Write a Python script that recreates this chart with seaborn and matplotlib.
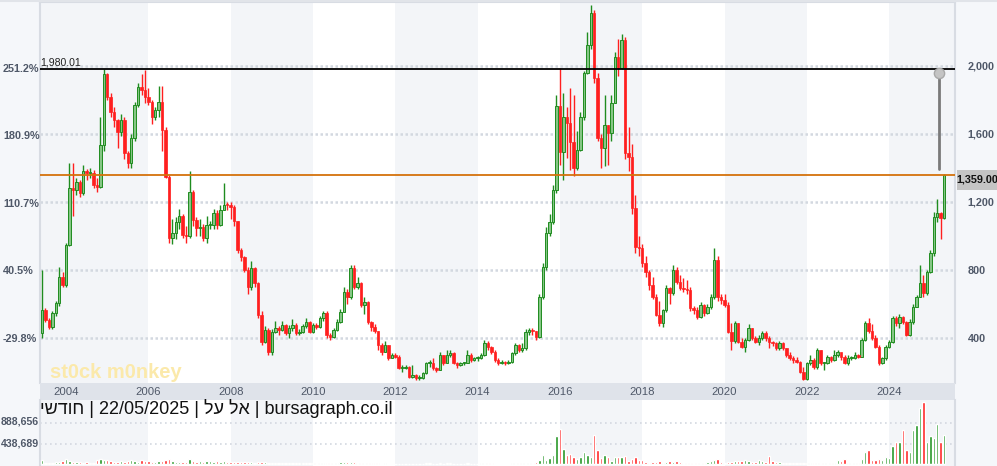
import numpy as np
import pandas as pd
import seaborn as sns
import matplotlib.pyplot as plt
from matplotlib.patches import Rectangle
from matplotlib.lines import Line2D
from matplotlib.transforms import blended_transform_factory

# monthly candles, Jun 2003 .. May 2025 (open of each month = previous close)
first_open = 427
closes = [
    565, 506, 467, 545, 604, 761, 712,                                   # 2003 Jun-Dec
    947, 1280, 1270, 1320, 1251, 1380, 1370, 1370, 1300, 1290, 1535, 1950,  # 2004
    1820, 1731, 1682, 1614, 1682, 1486, 1428, 1574, 1771, 1878, 1859, 1820,  # 2005
    1790, 1700, 1741, 1790, 1624, 1349, 990, 1020, 1084, 1120, 1006, 1000,   # 2006
    1261, 1094, 1045, 1055, 986, 1065, 1065, 1133, 1065, 1153, 1182, 1180,   # 2007
    1173, 1085, 918, 879, 800, 700, 810, 722, 535, 379, 447, 320,            # 2008
    437, 457, 447, 477, 428, 457, 477, 428, 437, 470, 496, 437,              # 2009
    477, 467, 516, 549, 418, 408, 447, 496, 555, 673, 643, 810,              # 2010
    702, 725, 594, 610, 496, 467, 438, 359, 320, 359, 281, 300,              # 2011
    290, 222, 222, 232, 173, 183, 165, 165, 193, 251, 251, 222,              # 2012
    212, 300, 251, 300, 310, 251, 241, 251, 251, 300, 271, 281,              # 2013
    281, 300, 369, 349, 320, 271, 251, 261, 251, 261, 310, 359,              # 2014
    330, 340, 437, 447, 440, 407, 643, 819, 1015, 1084, 1270, 1764,          # 2015
    1496, 1700, 1662, 1555, 1400, 1506, 1702, 1957, 2123, 2310, 1927, 1574,  # 2016
    1515, 1650, 1604, 1780, 2055, 1986, 2153, 1486, 1466, 1162, 937, 927,    # 2017
    839, 790, 711, 643, 535, 486, 564, 692, 662, 800, 731, 692,              # 2018
    690, 682, 574, 565, 525, 594, 545, 584, 643, 859, 640, 623,              # 2019
    594, 437, 380, 486, 378, 349, 388, 457, 398, 378, 398, 427,              # 2020
    398, 378, 368, 339, 368, 339, 300, 280, 270, 260, 202, 160,              # 2021
    251, 270, 231, 329, 251, 251, 290, 270, 300, 320, 290, 251,              # 2022
    280, 280, 300, 290, 388, 486, 440, 398, 349, 251, 280, 349,              # 2023
    378, 516, 486, 525, 496, 418, 496, 584, 643, 721, 663, 790,              # 2024
    898, 1114, 1133, 1104, 1359,                                            # 2025 Jan-May
]
highs = [
    800, 575, 515, 560, 620, 820, 790,
    960, 1428, 1430, 1340, 1330, 1420, 1395, 1400, 1390, 1340, 1700, 1980,
    1960, 1840, 1760, 1690, 1720, 1700, 1500, 1600, 1790, 1900, 1950, 1976,
    1870, 1800, 1760, 1880, 1880, 1640, 1360, 1100, 1110, 1160, 1130, 1060,
    1380, 1270, 1110, 1100, 1070, 1120, 1090, 1160, 1150, 1180, 1310, 1200,
    1200, 1180, 1090, 930, 880, 820, 850, 820, 730, 560, 470, 460,
    450, 500, 470, 500, 480, 475, 510, 490, 450, 480, 515, 500,
    490, 490, 530, 560, 560, 430, 460, 510, 570, 700, 690, 830,
    830, 760, 730, 640, 620, 500, 480, 440, 370, 380, 360, 310,
    310, 300, 240, 240, 235, 240, 190, 180, 200, 260, 270, 280,
    230, 320, 300, 330, 330, 320, 260, 260, 260, 330, 310, 290,
    295, 310, 390, 380, 355, 330, 280, 270, 265, 270, 320, 370,
    365, 370, 450, 460, 460, 440, 660, 840, 1050, 1130, 1300, 1830,
    1990, 1840, 1760, 1870, 1830, 1620, 1730, 1970, 2200, 2358, 2330, 1960,
    1600, 1830, 1650, 1830, 2080, 2160, 2190, 2170, 1640, 1540, 1240, 1000,
    950, 880, 800, 760, 660, 620, 570, 710, 700, 830, 820, 770,
    750, 740, 700, 590, 580, 610, 600, 600, 660, 927, 880, 660,
    660, 610, 490, 500, 490, 400, 400, 480, 460, 410, 420, 440,
    440, 410, 380, 375, 380, 375, 340, 320, 295, 285, 265, 230,
    260, 300, 280, 340, 330, 260, 300, 295, 330, 330, 300, 300,
    300, 295, 320, 305, 400, 500, 520, 480, 420, 360, 290, 360,
    390, 530, 530, 540, 530, 500, 510, 600, 650, 830, 770, 800,
    920, 1140, 1215, 1140, 1365,
]
lows = [
    400, 495, 455, 455, 530, 590, 700,
    700, 940, 1120, 1240, 1230, 1240, 1330, 1340, 1280, 1260, 1280, 1500,
    1800, 1700, 1640, 1520, 1590, 1450, 1400, 1400, 1560, 1760, 1830, 1780,
    1770, 1660, 1680, 1700, 1500, 1340, 960, 950, 980, 1040, 990, 960,
    990, 1060, 1000, 1000, 970, 960, 1040, 1040, 1040, 1060, 1150, 1150,
    1100, 1060, 900, 850, 790, 660, 680, 700, 520, 360, 370, 300,
    300, 430, 420, 440, 415, 400, 440, 420, 420, 430, 460, 430,
    430, 450, 460, 500, 400, 390, 400, 440, 490, 550, 600, 630,
    690, 690, 580, 540, 480, 440, 430, 330, 300, 320, 270, 280,
    280, 215, 200, 215, 165, 165, 150, 155, 160, 190, 230, 210,
    200, 210, 240, 250, 290, 245, 225, 235, 240, 250, 260, 265,
    265, 275, 295, 330, 305, 260, 240, 245, 240, 245, 255, 300,
    320, 320, 330, 420, 420, 390, 400, 630, 800, 1000, 1070, 1250,
    1420, 1330, 1460, 1390, 1350, 1390, 1500, 1680, 1950, 2100, 1900, 1560,
    1400, 1410, 1420, 1560, 1780, 1940, 1980, 1450, 1380, 1130, 900, 880,
    820, 760, 680, 630, 530, 470, 466, 550, 600, 650, 720, 680,
    670, 660, 560, 540, 510, 520, 530, 540, 570, 630, 620, 600,
    580, 430, 330, 370, 370, 340, 320, 380, 390, 370, 360, 390,
    380, 340, 350, 330, 330, 330, 290, 270, 250, 250, 195, 150,
    150, 240, 220, 220, 240, 210, 245, 260, 265, 285, 270, 245,
    240, 270, 275, 280, 285, 380, 430, 390, 340, 240, 245, 270,
    340, 370, 470, 460, 480, 410, 410, 480, 580, 640, 640, 650,
    780, 880, 1080, 980, 1100,
]
# volume in thousands
volumes = [
    75, 30, 20, 25, 35, 45, 70,
    100, 60, 45, 40, 35, 30, 35, 25, 30, 90, 100, 85,
    75, 60, 45, 40, 60, 50, 55, 90, 70, 50, 80, 70,
    60, 50, 40, 55, 60, 80, 100, 65, 50, 40, 50, 45,
    110, 60, 50, 55, 50, 70, 60, 50, 70, 50, 60, 45,
    40, 50, 45, 50, 35, 40, 40, 30, 40, 50, 40, 30,
    30, 20, 25, 20, 25, 20, 20, 25, 20, 25, 20, 20,
    20, 25, 20, 25, 30, 20, 20, 25, 40, 45, 50, 40,
    35, 30, 25, 20, 15, 20, 15, 15, 10, 15, 10, 10,
    10, 10, 8, 8, 10, 8, 10, 8, 10, 15, 12, 10,
    10, 12, 10, 15, 12, 10, 10, 10, 8, 15, 10, 10,
    10, 12, 20, 15, 12, 10, 10, 10, 8, 10, 15, 20,
    15, 20, 25, 20, 30, 40, 75, 200, 90, 130, 200, 590,
    740, 325, 200, 220, 160, 110, 140, 250, 200, 140, 630, 290,
    120, 200, 140, 60, 150, 140, 140, 180, 60, 110, 160, 90,
    90, 40, 30, 50, 40, 60, 30, 50, 60, 40, 70, 40,
    30, 30, 30, 20, 20, 20, 20, 40, 60, 75, 110, 40,
    30, 40, 50, 60, 70, 60, 80, 70, 50, 50, 80, 60,
    40, 180, 60, 40, 40, 30, 30, 30, 30, 30, 20, 30,
    20, 30, 20, 30, 20, 20, 20, 30, 30, 90, 70, 100,
    30, 20, 30, 30, 110, 250, 300, 75, 90, 110, 90, 146,
    120, 375, 480, 480, 731, 290, 250, 720, 846, 1203, 1338, 470,
    600, 560, 860, 470, 630,
]

price_ticks = [400, 800, 1200, 1600, 2000]
pct_ticks = [-29.8, 40.5, 110.7, 180.9, 251.2]
year_labels = [str(y) for y in range(2004, 2025, 2)]
high_line = 1980.01
last_price = 1359.00
vol_ticks = [888656, 438689]
measure_from, measure_to = 1959, 1392

heb_period = 'חודשי'
heb_name = 'אל על'

n = len(closes)
months = pd.date_range('2003-06-01', periods=n, freq='MS')
df = pd.DataFrame({
    'k': (months.year - 2004) * 12 + months.month - 1,
    'open': [first_open] + closes[:-1],
    'high': highs, 'low': lows, 'close': closes,
    'volume': np.array(volumes) * 1000,
})
df['dir'] = np.where(df['close'] >= df['open'], 'up', 'down')

sns.set_style('white')
plt.rcParams['font.family'] = ['Liberation Sans', 'DejaVu Sans']

W, H = 997, 466
BG = '#f5f7fa'
SHADE = '#f3f5f8'
GRID = '#d3d8e0'
LAB = '#4f5868'
EDGE = '#d8dce3'
G_DARK, G_FILL = '#1f8c1f', '#86c686'
RED = '#ff1f1f'

fig = plt.figure(figsize=(W / 100, H / 100), dpi=100, facecolor=BG)
ax = fig.add_axes([40 / W, 83 / H, 915 / W, 381 / H])
axd = fig.add_axes([40 / W, 66 / H, 915 / W, 17 / H])
axv = fig.add_axes([40 / W, 0, 915 / W, 66 / H])

xlim = (-7.6, 259.2)

# alternating two-year bands
for a in (ax, axv):
    a.set_facecolor('white')
    for s in [-30, 48, 96, 144, 192, 240]:
        a.axvspan(s, s + 24 if s >= 0 else 24, color=SHADE, zorder=0, lw=0)

# grid
for p in price_ticks:
    ax.axhline(p, color=GRID, lw=1.8, ls=(0, (1, 1)), zorder=1)

# candles
up = df[df['dir'] == 'up']
dn = df[df['dir'] == 'down']
ax.vlines(up['k'], up['low'], up['high'], color=G_DARK, lw=1, zorder=3)
ax.vlines(dn['k'], dn['low'], dn['high'], color=RED, lw=1, zorder=3)
ax.bar(up['k'], (up['close'] - up['open']).clip(lower=5), bottom=up['open'],
       width=0.72, color=G_FILL, edgecolor=G_DARK, linewidth=0.7, zorder=4)
ax.bar(dn['k'], (dn['open'] - dn['close']).clip(lower=5), bottom=dn['close'],
       width=0.72, color=RED, edgecolor=RED, linewidth=0.5, zorder=4)

ax.axhline(high_line, color='black', lw=1.3, zorder=5)
ax.axhline(last_price, color='#d4720c', lw=1.3, zorder=5)
ax.text(xlim[0] + 0.2, high_line + 8, f'{high_line:,.2f}', ha='left', va='bottom',
        fontsize=7.6, color='#222222')

# measure tool
mk = df['k'].iloc[-1] - 1.4
ax.plot([mk, mk], [measure_to, measure_from], color='#7a7a7a', lw=2, zorder=6)
ax.scatter([mk], [measure_from], s=55, color='#c4c4c4', edgecolor='#a8a8a8', zorder=7)

ax.set_xlim(*xlim)
ax.set_ylim(135, 2376)
ax.yaxis.tick_right()
ax.set_yticks(price_ticks)
ax.set_yticklabels([f'{p:,}' for p in price_ticks])
ax.tick_params(axis='y', length=0, pad=9, labelsize=7.8, labelcolor=LAB)
for t in ax.get_yticklabels():
    t.set_fontweight('bold')
ax.set_xticks([])
for s in ['left', 'right', 'top']:
    ax.spines[s].set_color(EDGE)
    ax.spines[s].set_linewidth(1.5)
ax.spines['bottom'].set_visible(False)

# percent labels on the left, relative to the first close
tr = blended_transform_factory(fig.transFigure, ax.transData)
base = closes[0]
for p in pct_ticks:
    ax.text(3 / W, base * (1 + p / 100), f'{p:.1f}%', transform=tr, ha='left', va='center',
            fontsize=7.8, fontweight='bold', color=LAB, clip_on=False)

# watermark
ax.text(50 / W, (H - 372) / H, 'st0ck m0nkey', transform=fig.transFigure, fontsize=14.5,
        fontweight='bold', color='#fbe9aa', ha='left', va='center', zorder=2)

# year band
axd.set_facecolor('#dfe3ea')
axd.set_xlim(*xlim)
axd.set_ylim(0, 1)
axd.set_xticks([])
axd.set_yticks([])
for s in axd.spines.values():
    s.set_visible(False)
for i, lab in enumerate(year_labels):
    axd.text(i * 24, 0.45, lab, ha='center', va='center', fontsize=8.2, color=LAB)

# volume
for v in vol_ticks:
    axv.axhline(v, color=GRID, lw=1.2, ls=(0, (1, 2)), zorder=1)
sns.barplot(data=df, x='k', y='volume', hue='dir', palette={'up': '#249624', 'down': '#ff2626'},
            native_scale=True, dodge=False, width=0.7, errorbar=None, legend=False,
            saturation=1, ax=axv, zorder=3)
axv.set_xlim(*xlim)
axv.set_ylim(-43000, 1371500)
axv.set_xticks([])
axv.set_yticks([])
axv.set_xlabel('')
axv.set_ylabel('')
for s in ['left', 'right']:
    axv.spines[s].set_color(EDGE)
    axv.spines[s].set_linewidth(1.5)
for s in ['top', 'bottom']:
    axv.spines[s].set_visible(False)
for v, ypx in zip(vol_ticks, [422, 443]):
    fig.text(1 / W, (H - ypx) / H, f'{v:,}', ha='left', va='center', fontsize=7.6,
             fontweight='bold', color=LAB)

caption = f'{heb_period[::-1]} | 22/05/2025 | {heb_name[::-1]} | bursagraph.co.il'
fig.text(40 / W, (H - 409) / H, caption, ha='left', va='center', fontsize=13,
         color='#111111', family=['Liberation Sans', 'DejaVu Sans'])

# last price tag
fig.add_artist(Rectangle((957 / W, (H - 190) / H), 40 / W, 20 / H, transform=fig.transFigure,
                         facecolor='#c4c4c4', edgecolor='none'))
fig.text(977 / W, (H - 180) / H, f'{last_price:,.2f}', ha='center', va='center',
         fontsize=7.8, fontweight='bold', color='#111111')

fig.add_artist(Line2D([0, 1], [1 - 1 / H] * 2, transform=fig.transFigure, color='#e1e4e9', lw=1.5))

fig.savefig('out.png', dpi=100, facecolor=fig.get_facecolor())
